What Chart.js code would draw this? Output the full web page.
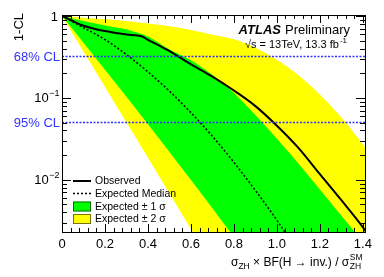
<!DOCTYPE html>
<html>
<head>
<meta charset="utf-8">
<script src="https://cdn.jsdelivr.net/npm/chart.js@4.4.1/dist/chart.umd.min.js"></script>
<style>
html, body { margin: 0; padding: 0; background: #fff; }
#wrap { width: 384px; height: 277px; }
</style>
</head>
<body>
<div id="wrap"><canvas id="cls" width="384" height="277"></canvas></div>
<script>
// x grid shared by the expected curves (signal strength)
const xGrid = [0, 0.1, 0.2, 0.3, 0.4, 0.5, 0.6, 0.7, 0.8, 0.9, 1.0, 1.1, 1.2, 1.3, 1.4, 1.45];

// expected 1-CL, median and the +-1 / +-2 sigma edges
const medianCL = [1, 0.72, 0.516, 0.338, 0.208, 0.121, 0.066, 0.034, 0.0163, 0.0074, 0.0032, 0.00127, 0.00048, 0.00017, 0.00006, 0.00004];
const band1Up = [1, 0.871, 0.767, 0.684, 0.562, 0.389, 0.288, 0.19, 0.115, 0.0617, 0.0316, 0.0158, 0.0076, 0.00363, 0.00174, 0.0012];
const band1Down = [1, 0.472, 0.221, 0.103, 0.0475, 0.0218, 0.0099, 0.0045, 0.002, 0.0009, 0.0004, 0.0002, 0.0001, 0.00005, 0.00002, 0.00001];
const band2Up = [1, 0.955, 0.912, 0.871, 0.813, 0.75, 0.676, 0.593, 0.52, 0.411, 0.293, 0.189, 0.11, 0.0575, 0.0272, 0.018];
const band2Down = [1, 0.37, 0.136, 0.05, 0.0186, 0.0068, 0.0025, 0.0009, 0.0003, 0.0001, 0.00004, 0.00002, 0.00001, 0.000005, 0.000002, 0.000001];

// observed 1-CL
const obsX = [0, 0.05, 0.1, 0.15, 0.2, 0.25, 0.3, 0.37, 0.4, 0.5, 0.6, 0.7, 0.8, 0.9, 1.0, 1.1, 1.2, 1.3, 1.4, 1.45];
const obsCL = [1, 0.87, 0.76, 0.70, 0.655, 0.62, 0.595, 0.566, 0.513, 0.372, 0.257, 0.182, 0.123, 0.0794, 0.0457, 0.0245, 0.0117, 0.00562, 0.00263, 0.0017];

// reference confidence levels
const clLevels = [0.32, 0.05];
const clNames = ['68% CL', '95% CL'];

// y axis labels (decades)
const yDecades = [1, 0.1, 0.01];
const yExp = ['', '\u22121', '\u22122'];

const legendNames = ['Observed', 'Expected Median', 'Expected \u00b1 1 \u03c3', 'Expected \u00b1 2 \u03c3'];

const font = '"Liberation Sans", Arial, Helvetica, sans-serif';
const blue = '#3333ff';

function pts(xs, ys) {
  return xs.map((x, i) => ({ x: x, y: ys[i] }));
}

function line(label, xs, ys, extra) {
  return Object.assign({
    label: label,
    data: pts(xs, ys),
    pointRadius: 0,
    borderWidth: 0,
    borderColor: 'rgba(0,0,0,0)',
    fill: false,
    cubicInterpolationMode: 'monotone'
  }, extra);
}

const datasets = [
  line('Observed', obsX, obsCL, { borderColor: '#000', borderWidth: 2, order: 0 }),
  line('Expected Median', xGrid, medianCL, { borderColor: '#000', borderWidth: 1.5, borderDash: [2, 2], order: 1 }),
  line('Expected +1s', xGrid, band1Up, { fill: 3, backgroundColor: '#00ff00', order: 2 }),
  line('Expected -1s', xGrid, band1Down, { order: 3 }),
  line('Expected +2s', xGrid, band2Up, { fill: 5, backgroundColor: '#ffff00', order: 4 }),
  line('Expected -2s', xGrid, band2Down, { order: 5 })
];

function sup(ctx, base, exp, x, y, size, align) {
  ctx.font = size + 'px ' + font;
  const wb = ctx.measureText(base).width;
  ctx.font = Math.round(size * 0.7) + 'px ' + font;
  const we = ctx.measureText(exp).width;
  let x0 = x;
  if (align === 'right') x0 = x - wb - we;
  ctx.textAlign = 'left';
  ctx.font = size + 'px ' + font;
  ctx.fillText(base, x0, y);
  ctx.font = Math.round(size * 0.7) + 'px ' + font;
  ctx.fillText(exp, x0 + wb + 0.5, y - size * 0.42);
}

const decor = {
  id: 'decor',
  afterDatasetsDraw(chart) {
    const ctx = chart.ctx;
    const a = chart.chartArea;
    const xs = chart.scales.x;
    const ys = chart.scales.y;
    ctx.save();

    // CL reference lines
    ctx.strokeStyle = blue;
    ctx.lineWidth = 1.5;
    ctx.setLineDash([2, 1.5]);
    clLevels.forEach(function (v) {
      const py = ys.getPixelForValue(v);
      ctx.beginPath();
      ctx.moveTo(a.left, py);
      ctx.lineTo(a.right, py);
      ctx.stroke();
    });
    ctx.setLineDash([]);

    // frame
    ctx.strokeStyle = '#000';
    ctx.lineWidth = 1;
    ctx.strokeRect(Math.round(a.left) + 0.5, Math.round(a.top) + 0.5,
      Math.round(a.right - a.left), Math.round(a.bottom - a.top));

    // x ticks, inside, bottom and top
    ctx.beginPath();
    for (let i = 0; i * 0.04 <= xs.max + 1e-9; i++) {
      const px = Math.round(xs.getPixelForValue(i * 0.04)) + 0.5;
      const len = i % 5 === 0 ? 8 : 4;
      ctx.moveTo(px, a.bottom);
      ctx.lineTo(px, a.bottom - len);
      ctx.moveTo(px, a.top);
      ctx.lineTo(px, a.top + len);
    }
    // y ticks, log, left and right
    for (let e = -3; e <= 0; e++) {
      for (let m = 1; m <= 9; m++) {
        const v = m * Math.pow(10, e);
        if (v < ys.min || v > ys.max) continue;
        const py = Math.round(ys.getPixelForValue(v)) + 0.5;
        const len = m === 1 ? 9 : 5;
        ctx.moveTo(a.left, py);
        ctx.lineTo(a.left + len, py);
        ctx.moveTo(a.right, py);
        ctx.lineTo(a.right - len, py);
      }
    }
    ctx.stroke();

    // y labels
    ctx.fillStyle = '#000';
    ctx.textBaseline = 'middle';
    yDecades.forEach(function (v, i) {
      const py = ys.getPixelForValue(v);
      if (yExp[i] === '') {
        ctx.font = '13px ' + font;
        ctx.textAlign = 'right';
        ctx.fillText('1', a.left - 4, py + 1);
      } else {
        sup(ctx, '10', yExp[i], a.left - 3, py + 1, 13, 'right');
      }
    });

    // CL labels
    ctx.fillStyle = blue;
    ctx.font = '13px ' + font;
    ctx.textAlign = 'right';
    clLevels.forEach(function (v, i) {
      ctx.fillText(clNames[i], a.left - 2, ys.getPixelForValue(v) + 1);
    });

    // y title
    ctx.fillStyle = '#000';
    ctx.save();
    ctx.translate(19, a.top - 2);
    ctx.rotate(-Math.PI / 2);
    ctx.textAlign = 'right';
    ctx.font = '13px ' + font;
    ctx.fillText('1-CL', 0, 0);
    ctx.restore();

    // x title
    ctx.textBaseline = 'alphabetic';
    ctx.textAlign = 'left';
    const parts = [
      ['\u03c3', 12, 0], ['ZH', 8.5, 3], [' \u00d7 BF(H \u2192 inv.) / \u03c3', 12, 0]
    ];
    let tw = 0;
    parts.forEach(function (p) { ctx.font = p[1] + 'px ' + font; tw += ctx.measureText(p[0]).width; });
    ctx.font = '8.5px ' + font;
    const wsm = Math.max(ctx.measureText('SM').width, ctx.measureText('ZH').width);
    let tx = 362 - wsm - tw;
    const ty = 266;
    parts.forEach(function (p) {
      ctx.font = p[1] + 'px ' + font;
      ctx.fillText(p[0], tx, ty + p[2]);
      tx += ctx.measureText(p[0]).width;
    });
    ctx.font = '8.5px ' + font;
    ctx.fillText('SM', tx + 0.5, ty - 6);
    ctx.fillText('ZH', tx + 0.5, ty + 3);

    // ATLAS label
    ctx.textAlign = 'right';
    ctx.font = '13px ' + font;
    ctx.fillText('Preliminary', 350, 34);
    const wp = ctx.measureText('Preliminary').width;
    ctx.font = 'italic bold 13px ' + font;
    ctx.fillText('ATLAS', 350 - wp - 4, 34);
    ctx.font = '8px ' + font;
    const w1 = ctx.measureText('-1').width;
    ctx.textAlign = 'left';
    ctx.fillText('-1', 347 - w1, 43);
    ctx.textAlign = 'right';
    ctx.font = '11px ' + font;
    ctx.fillText('\u221as = 13TeV, 13.3 fb', 346 - w1, 48);

    // legend
    const rowsY = [181, 193.5, 206.5, 219];
    ctx.font = '10.5px ' + font;
    ctx.textAlign = 'left';
    ctx.textBaseline = 'middle';
    rowsY.forEach(function (ry, i) {
      if (i < 2) {
        ctx.strokeStyle = '#000';
        ctx.lineWidth = i === 0 ? 2 : 1.5;
        ctx.setLineDash(i === 0 ? [] : [2, 2]);
        ctx.beginPath();
        ctx.moveTo(73, ry);
        ctx.lineTo(91, ry);
        ctx.stroke();
        ctx.setLineDash([]);
      } else {
        ctx.fillStyle = i === 2 ? '#00ff00' : '#ffff00';
        ctx.fillRect(73, ry - 5, 18, 10);
        ctx.strokeStyle = 'rgba(0,0,0,0.55)';
        ctx.lineWidth = 1;
        ctx.strokeRect(73.5, ry - 4.5, 17, 9);
      }
      ctx.fillStyle = '#000';
      ctx.fillText(legendNames[i], 95, ry + 0.5);
    });

    ctx.restore();
  }
};

new Chart(document.getElementById('cls'), {
  type: 'line',
  data: { datasets: datasets },
  options: {
    responsive: false,
    animation: false,
    devicePixelRatio: 1,
    layout: { padding: { top: 15, right: 19, left: 0, bottom: 0 } },
    plugins: { legend: { display: false }, tooltip: { enabled: false } },
    scales: {
      x: {
        type: 'linear',
        min: 0,
        max: 1.41,
        grid: { display: false },
        border: { display: false },
        ticks: {
          stepSize: 0.2,
          includeBounds: false,
          maxRotation: 0,
          autoSkip: false,
          padding: -3,
          color: '#000',
          font: { family: font, size: 13 }
        },
        afterFit: function (s) { s.height = 45; }
      },
      y: {
        type: 'logarithmic',
        min: 0.0023,
        max: 1.03,
        grid: { display: false },
        border: { display: false },
        ticks: { display: false },
        afterFit: function (s) { s.width = 62; }
      }
    }
  },
  plugins: [decor]
});
</script>
</body>
</html>
